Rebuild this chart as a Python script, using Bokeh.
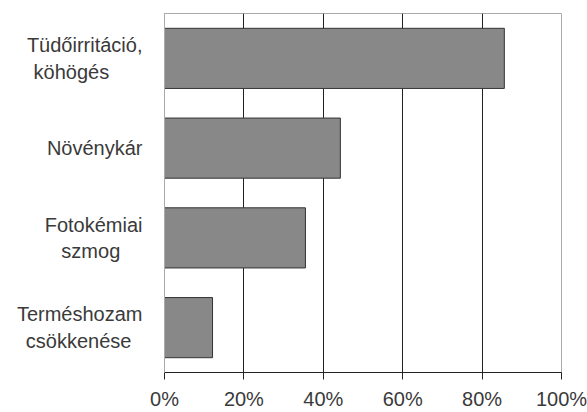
from bokeh.plotting import figure
from bokeh.models import NumeralTickFormatter, FixedTicker, Range1d
from bokeh.embed import file_html
from bokeh.resources import INLINE

NB = "\u00a0"
categories = ["Tüdőirritáció,\nköhögés" + NB * 6, "Növénykár",
              "Fotokémiai\nszmog" + NB * 4, "Terméshozam\ncsökkenése" + NB * 2]
values = [0.856, 0.443, 0.355, 0.121]
x_ticks = [0, 0.2, 0.4, 0.6, 0.8, 1.0]

p = figure(width=587, height=412, y_range=list(reversed(categories)),
           x_range=Range1d(0, 1), output_backend="svg", toolbar_location=None,
           min_border_left=164, min_border_right=26, min_border_top=13, min_border_bottom=40)

p.hbar(y=categories, right=values, left=0, height=0.67,
       fill_color="#888888", line_color="#333333", line_width=1)

p.xaxis.ticker = FixedTicker(ticks=x_ticks)
p.xaxis.formatter = NumeralTickFormatter(format="0%")
p.xaxis.major_tick_out = 7
p.xaxis.major_tick_in = 0
p.xaxis.minor_tick_line_color = None
p.xaxis.axis_line_color = "#222222"
p.xaxis.major_tick_line_color = "#222222"
p.xaxis.major_label_standoff = 8

p.yaxis.major_tick_line_color = None
p.yaxis.minor_tick_line_color = None
p.yaxis.axis_line_color = "#aaaaaa"
p.yaxis.major_label_standoff = 16

for ax in (p.xaxis, p.yaxis):
    ax.major_label_text_font = "Liberation Sans"
    ax.major_label_text_font_size = "20px"
    ax.major_label_text_color = "#3a3a3a"

p.xgrid.ticker = FixedTicker(ticks=x_ticks)
p.xgrid.grid_line_color = "#222222"
p.xgrid.grid_line_width = 1
p.ygrid.grid_line_color = None
p.outline_line_color = "#aaaaaa"
p.background_fill_color = "white"
p.border_fill_color = "white"

open("out.html", "w").write(file_html(p, INLINE))
